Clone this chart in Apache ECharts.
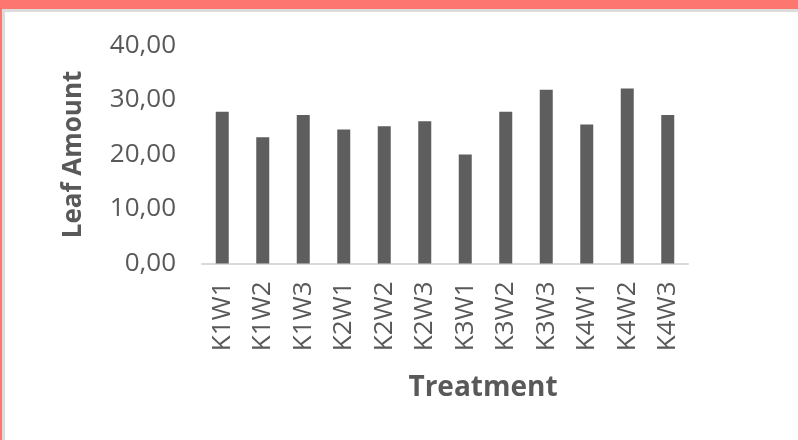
<!DOCTYPE html>
<html>
<head>
<meta charset="utf-8">
<script src="https://cdn.jsdelivr.net/npm/echarts@6/dist/echarts.min.js"></script>
<style>
  html, body { margin: 0; padding: 0; width: 798px; height: 440px; overflow: hidden; background: #ffffff; }
  #frame { position: absolute; left: 0; top: 0; width: 798px; height: 440px; background: #fe7670; }
  #inner { position: absolute; left: 2px; top: 9px; right: 0; bottom: 0; background: #dcdcdc; }
  #chart { position: absolute; left: 5px; top: 12px; width: 793px; height: 428px; background: #ffffff; }
</style>
</head>
<body>
<div id="frame"></div>
<div id="inner"></div>
<div id="chart"></div>
<script>
const categories = ['K1W1','K1W2','K1W3','K2W1','K2W2','K2W3','K3W1','K3W2','K3W3','K4W1','K4W2','K4W3'];
const leafAmount = [27.85, 23.15, 27.25, 24.6, 25.2, 26.1, 20.0, 27.85, 31.9, 25.5, 32.1, 27.25];
const yTicks = { min: 0, max: 40, interval: 10 };

const chart = echarts.init(document.getElementById('chart'), null, { renderer: 'canvas' });
const textColor = '#595959';
const fontFamily = '"Open Sans", "Noto Sans", sans-serif';

chart.setOption({
  animation: false,
  grid: { left: 197, right: 110, top: 33.5, bottom: 176.5, containLabel: false },
  xAxis: {
    type: 'category',
    data: categories,
    axisLine: { show: true, lineStyle: { color: '#d9d9d9', width: 2 } },
    axisTick: { show: false },
    axisLabel: { rotate: 90, margin: 18, color: textColor, fontSize: 26, fontFamily: fontFamily },
    name: 'Treatment',
    nameLocation: 'middle',
    nameGap: 111,
    nameTextStyle: { color: textColor, fontSize: 28, fontWeight: 'bold', fontFamily: fontFamily, padding: [0, 0, 0, 76] }
  },
  yAxis: {
    type: 'value',
    min: yTicks.min,
    max: yTicks.max,
    interval: yTicks.interval,
    splitLine: { show: false },
    axisLine: { show: false },
    axisTick: { show: false },
    axisLabel: {
      margin: 26, color: textColor, fontSize: 26, fontFamily: fontFamily,
      formatter: v => v.toFixed(2).replace('.', ',')
    },
    name: 'Leaf Amount',
    nameLocation: 'middle',
    nameGap: 115.5,
    nameTextStyle: { color: textColor, fontSize: 26, fontWeight: 'bold', fontFamily: fontFamily }
  },
  series: [{
    type: 'bar',
    data: leafAmount,
    barWidth: 13,
    itemStyle: { color: '#5e5e5e' }
  }]
});
</script>
</body>
</html>
